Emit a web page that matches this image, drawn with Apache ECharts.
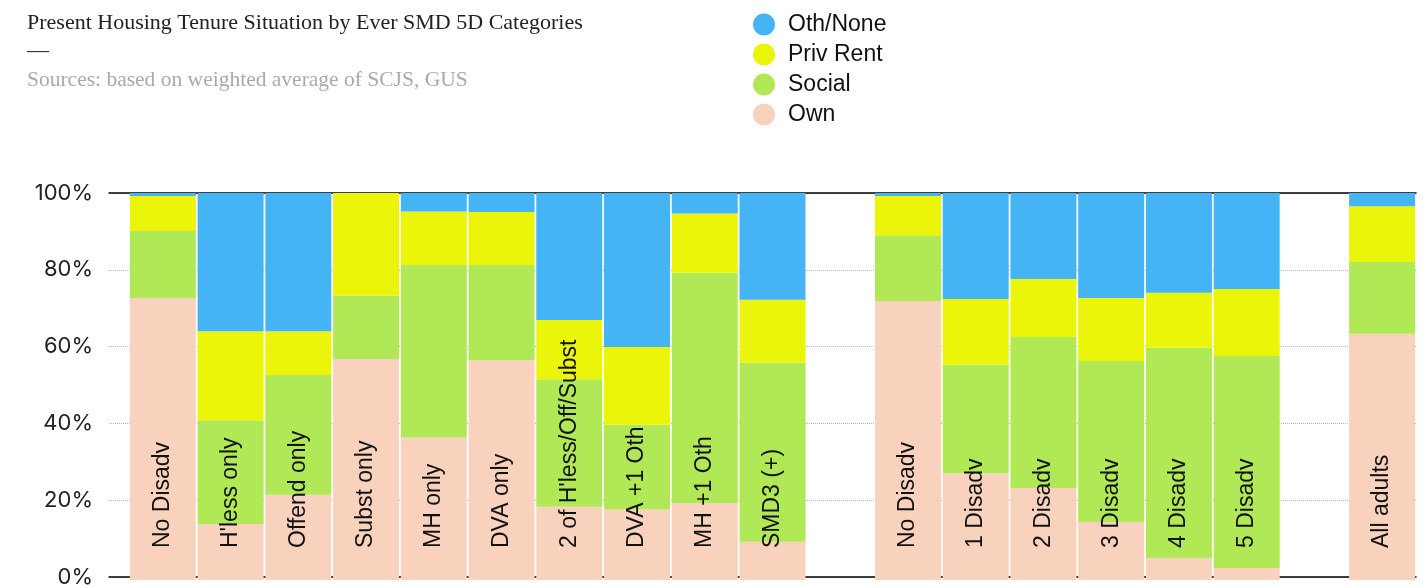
<!DOCTYPE html>
<html>
<head>
<meta charset="utf-8">
<script src="https://cdn.jsdelivr.net/npm/echarts@6/dist/echarts.min.js"></script>
<style>
  html, body { margin: 0; padding: 0; background: #fff; }
  #main { width: 1427px; height: 588px; }
</style>
</head>
<body>
<div id="main"></div>
<script>
// categories, blanks are the spacer columns between groups
var categories = ['No Disadv', "H'less only", 'Offend only', 'Subst only', 'MH only', 'DVA only',
  "2 of H'less/Off/Subst", 'DVA +1 Oth', 'MH +1 Oth', 'SMD3 (+)', ' ',
  'No Disadv ', '1 Disadv', '2 Disadv', '3 Disadv', '4 Disadv', '5 Disadv', '  ', 'All adults']

// shares in %, bottom to top
var own = [72.9, 14.5, 22.0, 57.1, 36.8, 56.8, 18.9, 18.2, 19.9, 9.9, null,
  72.1, 27.6, 23.8, 15.0, 5.7, 3.1, null, 63.6]
var social = [17.3, 26.8, 31.0, 16.4, 44.6, 24.6, 33.0, 21.9, 59.5, 46.3, null,
  17.0, 28.0, 39.0, 41.6, 54.3, 54.8, null, 18.6]
var privRent = [9.0, 23.0, 11.3, 26.5, 13.8, 13.7, 15.3, 20.1, 15.3, 16.2, null,
  10.1, 17.0, 15.0, 16.3, 14.2, 17.3, null, 14.4]
var othNone = [0.8, 35.7, 35.7, 0, 4.8, 4.9, 32.8, 39.8, 5.3, 27.6, null,
  0.8, 27.4, 22.2, 27.1, 25.8, 24.8, null, 3.4]

var yTicks = [0, 20, 40, 60, 80, 100]

var myChart = echarts.init(document.getElementById('main'))

var barBase = {
  type: 'bar',
  stack: 'tenure',
  xAxisIndex: 2,
  yAxisIndex: 1,
  barWidth: 66,
  silent: true
}

var option = {
  animation: false,
  title: {
    text: 'Present Housing Tenure Situation by Ever SMD 5D Categories\n—',
    subtext: 'Sources: based on weighted average of SCJS, GUS',
    left: 22,
    top: 4,
    itemGap: 4,
    textStyle: {
      fontFamily: 'Liberation Serif',
      fontWeight: 'normal',
      fontSize: 22,
      lineHeight: 28,
      color: '#222'
    },
    subtextStyle: {
      fontFamily: 'Liberation Serif',
      fontSize: 21.5,
      color: '#aaa'
    }
  },
  legend: {
    orient: 'vertical',
    left: 748,
    top: 8,
    icon: 'circle',
    itemWidth: 22,
    itemHeight: 22,
    itemGap: 7,
    textStyle: {
      fontFamily: 'Liberation Sans',
      fontSize: 23,
      color: '#111',
      padding: [0, 0, 0, 8]
    },
    data: ['Oth/None', 'Priv Rent', 'Social', 'Own']
  },
  grid: [
    // frame: gridlines and axis lines
    { left: 109, right: 11, top: 193, bottom: 8 },
    // bars
    { left: 129, right: 11, top: 193, bottom: 8 }
  ],
  xAxis: [
    {
      type: 'value',
      gridIndex: 0,
      min: 0,
      max: 1,
      axisLine: { show: true, lineStyle: { color: '#000', width: 1.5 } },
      axisTick: { show: false },
      axisLabel: { show: false },
      splitLine: { show: false }
    },
    {
      type: 'value',
      gridIndex: 0,
      position: 'top',
      min: 0,
      max: 1,
      axisLine: { show: true, onZero: false, lineStyle: { color: '#000', width: 1.5 } },
      axisTick: { show: false },
      axisLabel: { show: false },
      splitLine: { show: false }
    },
    {
      type: 'category',
      gridIndex: 1,
      data: categories,
      show: false
    }
  ],
  yAxis: [
    {
      type: 'value',
      gridIndex: 0,
      min: yTicks[0],
      max: yTicks[yTicks.length - 1],
      interval: 20,
      axisLine: { show: false },
      axisTick: { show: false },
      axisLabel: {
        formatter: '{value}%',
        margin: 16,
        fontFamily: 'Inter',
        fontSize: 22,
        color: '#222'
      },
      splitLine: { lineStyle: { color: '#bbb', type: 'dotted', width: 1 } }
    },
    {
      type: 'value',
      gridIndex: 1,
      min: 0,
      max: 100,
      show: false
    }
  ],
  series: [
    Object.assign({}, barBase, {
      name: 'Own',
      data: own,
      itemStyle: { color: '#f9d2be' },
      label: {
        show: true,
        position: 'insideBottom',
        distance: 32,
        rotate: 90,
        align: 'left',
        verticalAlign: 'middle',
        fontFamily: 'Liberation Sans',
        fontSize: 23,
        color: '#111',
        formatter: function (p) { return p.name.trim() }
      }
    }),
    Object.assign({}, barBase, {
      name: 'Social',
      data: social,
      itemStyle: { color: '#b0e955' }
    }),
    Object.assign({}, barBase, {
      name: 'Priv Rent',
      data: privRent,
      itemStyle: { color: '#ebf50a' }
    }),
    Object.assign({}, barBase, {
      name: 'Oth/None',
      data: othNone,
      itemStyle: { color: '#45b4f5' }
    })
  ]
}

option && myChart.setOption(option)
</script>
</body>
</html>
